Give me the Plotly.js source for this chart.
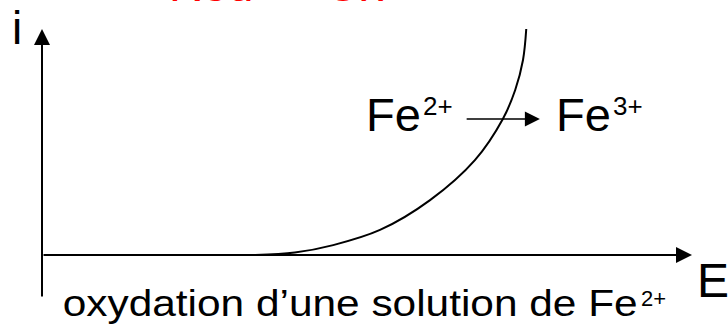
<!DOCTYPE html>
<html>
<head>
<meta charset="utf-8">
<script src="https://cdn.plot.ly/plotly-3.0.1.min.js"></script>
<style>
  html, body { margin: 0; padding: 0; background: #ffffff; }
  #chart { width: 728px; height: 326px; }
</style>
</head>
<body>
<div id="chart"></div>
<script>
// Current–potential curve for the oxidation of Fe2+ (arbitrary units)
const potentialE = [3.28, 3.89, 4.48, 5.2, 5.97, 6.66, 7.09, 7.28, 7.4, 7.45];
const currentI   = [0.0, 0.11, 0.44, 1.11, 2.43, 4.2, 6.02, 7.3, 8.63, 10.0];

// Axis extents (arbitrary units)
const eMax = 10;
const iMax = 10;
const iBelow = -1.9;

// Reaction arrow Fe2+ -> Fe3+
const reactionE = [6.51, 7.66];
const reactionI = 6.02;

const FONT = 'Liberation Sans, Arial, Helvetica, sans-serif';

// Plot area geometry and pixel -> paper helpers for text placement
const L = 42, T = 29, W = 650, H = 269;
const px = x => (x - L) / W;
// paper y of the bottom of a text box whose baseline sits at pixel y
const py = (y, size) => (T + H - (y + 0.212 * size + 1)) / H;

// caption line: left/right edges in pixels
const CAPTION_LEFT = 62, CAPTION_RIGHT = 637;

const trace = {
  x: potentialE,
  y: currentI,
  mode: 'lines',
  line: { color: '#000000', width: 2, shape: 'spline', smoothing: 1 },
  hoverinfo: 'skip',
  cliponaxis: false
};

const arrow = (x, y, ax, ay, width, size) => ({
  x: x, y: y, ax: ax, ay: ay,
  xref: 'x', yref: 'y', axref: 'x', ayref: 'y',
  text: '', showarrow: true,
  arrowhead: 2, arrowsize: size, arrowwidth: width, arrowcolor: '#000000',
  standoff: 0, startstandoff: 0
});

const label = (text, x, y, size, color, anchor) => ({
  text: text,
  x: px(x), y: py(y, size),
  xref: 'paper', yref: 'paper',
  xanchor: anchor || 'left', yanchor: 'bottom',
  showarrow: false,
  font: { family: FONT, size: size, color: color || '#000000' }
});

const layout = {
  width: 728,
  height: 326,
  margin: { l: L, r: 728 - L - W, t: T, b: 326 - T - H, pad: 0 },
  paper_bgcolor: '#ffffff',
  plot_bgcolor: '#ffffff',
  showlegend: false,
  xaxis: { range: [0, eMax], visible: false, fixedrange: true },
  yaxis: { range: [iBelow, iMax], visible: false, fixedrange: true },
  annotations: [
    // axes
    arrow(0, iMax, 0, iBelow, 2, 1.6),
    arrow(eMax, 0, 0, 0, 2, 1.6),
    // reaction arrow
    arrow(reactionE[1], reactionI, reactionE[0], reactionI, 1.5, 2),
    // labels
    label('i', 16.5, 45, 46, '#000000', 'center'),
    label('E', 695, 298, 48),
    label('Red \u2192 Ox', 276.5, 2, 46, '#ff0000', 'center'),
    label('Fe', 364, 132, 47),
    label('2+', 421, 116, 26),
    label('Fe', 554, 132, 47),
    label('3+', 611, 116, 26),
    label('oxydation d\u2019une solution de Fe', (CAPTION_LEFT + CAPTION_RIGHT) / 2, 317, 36, '#000000', 'center'),
    label('2+', 639, 307, 22)
  ]
};

Plotly.newPlot('chart', [trace], layout, { staticPlot: true, displayModeBar: false })
  .then(gd => {
    // widen the caption line to its set length
    gd.querySelectorAll('.annotation-text').forEach(t => {
      if (t.textContent.indexOf('oxydation') === 0) {
        t.setAttribute('textLength', String(CAPTION_RIGHT - CAPTION_LEFT));
        t.setAttribute('lengthAdjust', 'spacingAndGlyphs');
      }
    });
  });
</script>
</body>
</html>
